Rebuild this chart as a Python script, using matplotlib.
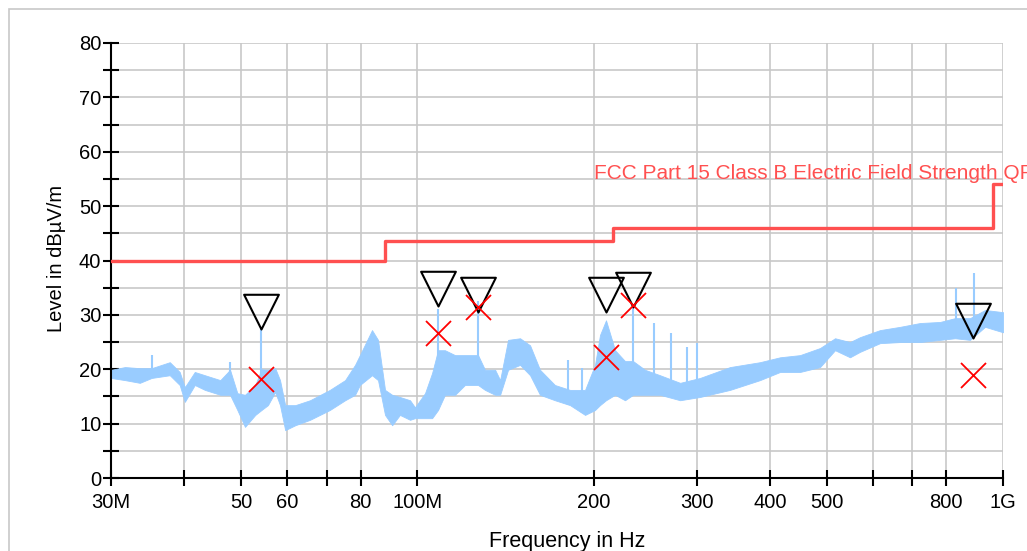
import matplotlib.pyplot as plt
import matplotlib.patches as mpatches
from matplotlib.path import Path
from matplotlib.ticker import FixedLocator, FixedFormatter, MultipleLocator
import numpy as np

plt.rcParams['font.family'] = ['Liberation Sans', 'DejaVu Sans']

# -----------------------------
# Data (MHz / dBuV/m)
# -----------------------------
trace_f = [30.0, 31.7, 33.6, 35.2, 37.8, 39.3, 40.1, 41.7, 43.4, 46.1, 47.9, 49.3,
           50.8, 52.9, 54.2, 55.6, 57.2, 58.3, 59.5, 61.9, 65.6, 70.9, 75.3, 78.3,
           79.8, 83.7, 85.7, 88.1, 90.6, 93.4, 97.2, 99.1, 103.1, 106.0, 108.5, 111.5,
           116.0, 120.6, 127.0, 130.5, 135.8, 138.5, 142.9, 149.8, 155.8, 162.0, 171.8,
           182.3, 193.4, 201.1, 205.1, 210.0, 217.6, 226.3, 233.6, 244.8, 259.7, 281.0,
           303.9, 341.9, 384.7, 416.3, 450.3, 487.1, 516.7, 548.0, 570.0, 616.7, 667.2,
           721.6, 780.9, 828.2, 878.5, 931.9, 1000.0]
trace_hi = [19.9, 20.4, 20.2, 20.2, 21.3, 19.5, 16.7, 19.5, 18.9, 18.0, 19.9, 15.6,
            15.3, 17.1, 20.0, 19.9, 20.2, 18.0, 13.4, 13.4, 14.3, 16.2, 18.0, 20.8,
            22.6, 27.2, 25.4, 16.2, 15.3, 14.9, 14.3, 13.0, 15.6, 19.3, 23.5, 23.5,
            22.6, 22.6, 22.6, 19.9, 19.9, 18.0, 25.4, 25.7, 24.4, 19.9, 17.1,
            16.2, 16.2, 20.8, 26.3, 29.0, 23.5, 21.5, 21.5, 19.9, 18.9, 17.5,
            18.4, 20.4, 21.3, 22.2, 22.6, 23.9, 25.7, 25.0, 25.9, 27.2, 27.8,
            28.5, 28.7, 29.4, 29.4, 30.9, 30.5]
trace_lo = [18.4, 18.0, 17.5, 18.4, 18.9, 17.1, 14.0, 17.1, 16.2, 15.3, 15.3, 12.5,
            9.4, 11.6, 12.5, 13.4, 15.8, 13.4, 8.8, 9.7, 10.7, 12.5, 14.3, 15.3,
            17.1, 18.9, 18.0, 11.6, 9.7, 11.6, 10.7, 11.0, 11.0, 11.0, 12.5, 15.3,
            15.3, 17.1, 17.1, 16.2, 15.3, 15.3, 19.9, 20.8, 18.9, 15.3, 14.3,
            13.4, 11.6, 12.5, 13.4, 14.3, 15.3, 14.3, 15.3, 15.3, 15.3, 14.3,
            14.9, 16.2, 18.0, 19.5, 19.5, 20.4, 23.5, 22.2, 23.2, 24.8, 25.0,
            25.0, 25.4, 25.7, 25.4, 27.8, 26.8]

spike_f = [35.2, 47.9, 54.2, 108.5, 127.0, 180.9, 190.8, 233.6, 253.6, 271.2,
           288.8, 300.4, 831.4, 892.0]
spike_top = [22.6, 21.3, 27.4, 31.0, 32.5, 21.7, 20.2, 31.5, 28.5, 26.7,
             24.1, 24.8, 34.9, 37.7]

peak_f = [54.2, 108.5, 127.0, 210.0, 233.6, 889.0]
peak_db = [27.4, 31.6, 30.5, 30.5, 31.4, 25.7]

qp_f = [54.2, 108.5, 127.0, 210.0, 233.6, 889.0]
qp_db = [18.2, 26.6, 31.4, 22.3, 31.8, 18.9]

limit_f = [30, 88, 216, 960, 1000]
limit_db = [40, 43.5, 46, 54, 54]
limit_name = "FCC Part 15 Class B Electric Field Strength QP"

xtick_mhz = [30, 40, 50, 60, 70, 80, 100, 200, 300, 400, 500, 600, 700, 800, 1000]
xtick_lbl = ["30M", "", "50", "60", "", "80", "100M", "200", "300", "400", "500",
             "", "", "800", "1G"]

MHz = 1e6

# -----------------------------
# Figure
# -----------------------------
fig = plt.figure(figsize=(10.27, 5.51), dpi=100)
fig.patches.append(mpatches.Rectangle((9 / 1027, -0.1), 1.2, 1 - 9 / 551 + 0.1,
                                      transform=fig.transFigure, fill=False,
                                      edgecolor="#c8c8c8", linewidth=1.2))
ax = fig.add_axes([111 / 1027, 1 - 478 / 551, 892 / 1027, 435 / 551])
ax.set_xscale("log")
ax.set_xlim(30 * MHz, 1000 * MHz)
ax.set_ylim(0, 80)

tf = np.array(trace_f) * MHz
ax.fill_between(tf, trace_lo, trace_hi, color="#99ccff", linewidth=0.6,
                edgecolor="#99ccff", zorder=2)
lo_at_spike = np.interp(np.log(np.array(spike_f)), np.log(trace_f), trace_lo)
ax.vlines(np.array(spike_f) * MHz, lo_at_spike, spike_top, color="#99ccff",
          linewidth=1.5, zorder=2)

ax.step(np.array(limit_f) * MHz, limit_db, where="post", color="#ff5050",
        linewidth=2.4, zorder=3)
ax.text(200 * MHz, 55, limit_name, color="#ff5050", fontsize=15,
        va="baseline", ha="left", clip_on=False)

tri = Path([(0, 0), (-0.5, 1), (0.5, 1), (0, 0)],
           [Path.MOVETO, Path.LINETO, Path.LINETO, Path.CLOSEPOLY])
ax.plot(np.array(peak_f) * MHz, peak_db, linestyle="none", marker=tri,
        markersize=50, markerfacecolor="none", markeredgecolor="black",
        markeredgewidth=1.5, zorder=4, clip_on=False)
ax.plot(np.array(qp_f) * MHz, qp_db, linestyle="none", marker="x", markersize=18,
        color="#ff0000", markeredgewidth=1.3, zorder=4)

# axes, ticks, grid
ax.xaxis.set_major_locator(FixedLocator([m * MHz for m in xtick_mhz]))
ax.xaxis.set_major_formatter(FixedFormatter(xtick_lbl))
ax.xaxis.set_minor_locator(FixedLocator([]))
ax.yaxis.set_major_locator(MultipleLocator(10))
ax.yaxis.set_minor_locator(MultipleLocator(5))
ax.tick_params(axis="both", which="both", direction="inout", length=12,
               width=1.5, labelsize=14.5, colors="black")
ax.tick_params(axis="x", pad=5)
ax.tick_params(axis="y", pad=1)
ax.grid(True, which="both", color="#c8c8c8", linewidth=1.2, zorder=0)
ax.set_axisbelow(True)
for s in ["top", "right"]:
    ax.spines[s].set_visible(False)
for s in ["left", "bottom"]:
    ax.spines[s].set_linewidth(1.5)

fig.text(567 / 1027, 1 - 547 / 551, "Frequency in Hz", fontsize=15.5,
         ha="center", va="baseline")
fig.text(57 / 1027, 1 - 258 / 551, "Level in dB\u00b5V/m", fontsize=14.5,
         ha="center", va="center", rotation=90)

plt.savefig("out.png", dpi=100)
